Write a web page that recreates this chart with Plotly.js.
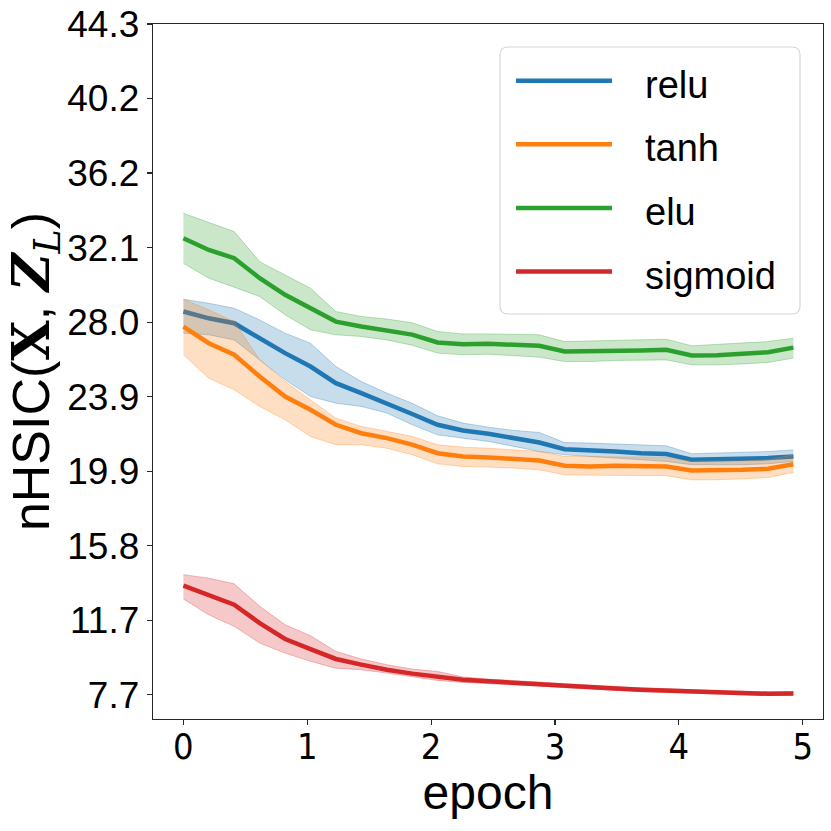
<!DOCTYPE html>
<html>
<head>
<meta charset="utf-8">
<script src="https://cdn.plot.ly/plotly-3.0.1.min.js"></script>
<style>
  html, body { margin: 0; padding: 0; background: #fff; }
  #chart { width: 831px; height: 831px; }
</style>
</head>
<body>
<div id="chart"></div>
<script>
// ---------------- data ----------------
const epochs = [0, 0.205, 0.41, 0.616, 0.821, 1.026, 1.231, 1.436, 1.642, 1.847,
                2.052, 2.257, 2.462, 2.668, 2.873, 3.078, 3.283, 3.488, 3.694, 3.899,
                4.104, 4.309, 4.514, 4.72, 4.925];

const seriesNames = ["relu", "tanh", "elu", "sigmoid"];
const seriesColors = ["#1f77b4", "#ff7f0e", "#2ca02c", "#d62728"];

const reluMean  = [28.61, 28.24, 27.97, 27.15, 26.34, 25.61, 24.70, 24.16, 23.61, 23.02,
                   22.43, 22.12, 21.94, 21.70, 21.46, 21.10, 21.06, 20.97, 20.88, 20.83,
                   20.52, 20.55, 20.57, 20.61, 20.70];
const reluUpper = [29.28, 29.06, 28.79, 28.15, 27.43, 26.88, 25.61, 24.79, 24.16, 23.60,
                   22.92, 22.52, 22.30, 22.12, 22.01, 21.46, 21.43, 21.37, 21.34, 21.28,
                   20.85, 20.88, 20.92, 20.97, 21.06];
const reluLower = [27.43, 27.34, 27.06, 25.97, 24.88, 23.97, 23.61, 23.43, 23.07, 22.43,
                   21.88, 21.70, 21.52, 21.25, 20.97, 20.79, 20.70, 20.61, 20.48, 20.43,
                   20.25, 20.25, 20.25, 20.30, 20.43];

const tanhMean  = [27.79, 26.88, 26.25, 25.06, 23.97, 23.25, 22.43, 21.97, 21.70, 21.35,
                   20.88, 20.70, 20.65, 20.55, 20.48, 20.19, 20.15, 20.19, 20.19, 20.15,
                   19.93, 19.93, 19.97, 20.03, 20.28];
const tanhUpper = [29.28, 28.70, 28.06, 25.97, 24.79, 23.79, 22.79, 22.34, 22.06, 21.80,
                   21.34, 21.21, 21.15, 21.06, 20.97, 20.70, 20.70, 20.70, 20.70, 20.66,
                   20.43, 20.43, 20.46, 20.52, 20.79];
const tanhLower = [26.25, 24.97, 24.34, 23.43, 22.70, 21.79, 21.34, 21.34, 21.15, 20.80,
                   20.30, 20.15, 20.12, 20.07, 19.97, 19.70, 19.68, 19.68, 19.68, 19.65,
                   19.43, 19.43, 19.48, 19.55, 19.83];

const eluMean   = [32.61, 31.97, 31.52, 30.43, 29.52, 28.79, 28.06, 27.79, 27.57, 27.35,
                   26.92, 26.83, 26.85, 26.79, 26.74, 26.43, 26.43, 26.48, 26.48, 26.52,
                   26.21, 26.23, 26.30, 26.39, 26.64];
const eluUpper  = [33.97, 33.46, 32.97, 31.33, 30.61, 29.88, 28.61, 28.34, 28.20, 28.00,
                   27.52, 27.39, 27.39, 27.37, 27.34, 26.97, 27.01, 27.06, 27.10, 27.10,
                   26.74, 26.81, 26.88, 26.97, 27.15];
const eluLower  = [31.24, 30.43, 29.94, 29.43, 28.43, 27.61, 27.34, 27.25, 27.06, 26.77,
                   26.34, 26.25, 26.28, 26.21, 26.12, 25.88, 25.88, 25.94, 25.94, 25.97,
                   25.70, 25.70, 25.75, 25.83, 26.07];

const sigmoidMean  = [13.65, 13.10, 12.61, 11.61, 10.74, 10.19, 9.65, 9.34, 9.06, 8.85,
                      8.67, 8.52, 8.43, 8.34, 8.28, 8.19, 8.10, 8.04, 7.97, 7.93,
                      7.86, 7.81, 7.79, 7.75, 7.77];
const sigmoidUpper = [14.25, 14.06, 13.75, 12.52, 11.52, 10.92, 10.06, 9.65, 9.34, 9.10,
                      8.97, 8.67, 8.55, 8.45, 8.39, 8.30, 8.21, 8.14, 8.07, 8.03,
                      7.96, 7.91, 7.89, 7.85, 7.87];
const sigmoidLower = [12.92, 12.06, 11.43, 10.52, 9.97, 9.52, 9.15, 9.06, 8.88, 8.70,
                      8.48, 8.37, 8.31, 8.23, 8.17, 8.08, 7.99, 7.94, 7.87, 7.83,
                      7.76, 7.71, 7.69, 7.65, 7.67];

const yTickVals   = [7.7, 11.767, 15.833, 19.9, 23.967, 28.033, 32.1, 36.167, 40.233, 44.3];
const yTickLabels = ["7.7", "11.7", "15.8", "19.9", "23.9", "28.0", "32.1", "36.2", "40.2", "44.3"];
const xTickVals   = [0, 1, 2, 3, 4, 5];
const xTickLabels = ["0", "1", "2", "3", "4", "5"];

// ---------------- build traces ----------------
const means  = [reluMean, tanhMean, eluMean, sigmoidMean];
const uppers = [reluUpper, tanhUpper, eluUpper, sigmoidUpper];
const lowers = [reluLower, tanhLower, eluLower, sigmoidLower];

function rgba(hex, a) {
  const r = parseInt(hex.slice(1, 3), 16), g = parseInt(hex.slice(3, 5), 16), b = parseInt(hex.slice(5, 7), 16);
  return `rgba(${r},${g},${b},${a})`;
}

const traces = [];
seriesNames.forEach((name, i) => {
  const c = seriesColors[i];
  traces.push({
    x: epochs, y: lowers[i], type: "scatter", mode: "lines",
    line: { color: rgba(c, 0.3), width: 1 }, hoverinfo: "skip", showlegend: false
  });
  traces.push({
    x: epochs, y: uppers[i], type: "scatter", mode: "lines", fill: "tonexty",
    fillcolor: rgba(c, 0.25), line: { color: rgba(c, 0.3), width: 1 },
    hoverinfo: "skip", showlegend: false
  });
  traces.push({
    x: epochs, y: means[i], type: "scatter", mode: "lines", name: name,
    line: { color: c, width: 4.5 }, showlegend: false
  });
});

// ---------------- layout ----------------
const W = 831, H = 831;
const M = { l: 153, r: 8, t: 24, b: 112 };
const plotW = W - M.l - M.r, plotH = H - M.t - M.b;
const px2x = p => (p - M.l) / plotW;
const py2y = p => (H - M.b - p) / plotH;

// manual legend (matplotlib-style)
const legBox = { x0: 500, x1: 800, y0: 47, y1: 314, r: 8 };
const rx = legBox.r / plotW, ry = legBox.r / plotH;
const bx0 = px2x(legBox.x0), bx1 = px2x(legBox.x1), by0 = py2y(legBox.y1), by1 = py2y(legBox.y0);
const legendPath =
  `M ${bx0 + rx},${by1} L ${bx1 - rx},${by1} Q ${bx1},${by1} ${bx1},${by1 - ry} ` +
  `L ${bx1},${by0 + ry} Q ${bx1},${by0} ${bx1 - rx},${by0} L ${bx0 + rx},${by0} ` +
  `Q ${bx0},${by0} ${bx0},${by0 + ry} L ${bx0},${by1 - ry} Q ${bx0},${by1} ${bx0 + rx},${by1} Z`;

const shapes = [{
  type: "path", xref: "paper", yref: "paper", path: legendPath,
  fillcolor: "rgba(255,255,255,0.8)", line: { color: "#d6d6d6", width: 1.2 }, layer: "above"
}];
const annotations = [];
const rowY = [80.7, 144.3, 207.9, 271.5];
seriesNames.forEach((name, i) => {
  shapes.push({
    type: "line", xref: "paper", yref: "paper",
    x0: px2x(516), x1: px2x(612), y0: py2y(rowY[i]), y1: py2y(rowY[i]),
    line: { color: seriesColors[i], width: 4.5 }, layer: "above"
  });
  annotations.push({
    xref: "paper", yref: "paper", x: px2x(643), y: py2y(rowY[i] + 4),
    xanchor: "left", yanchor: "middle", showarrow: false, text: name,
    font: { family: "Liberation Sans, Arial, sans-serif", size: 38, color: "#000" }
  });
});

const layout = {
  width: W, height: H,
  margin: M,
  paper_bgcolor: "#fff", plot_bgcolor: "#fff",
  showlegend: false,
  xaxis: {
    range: [-0.2456, 5.164], tickmode: "array", tickvals: xTickVals, ticktext: xTickLabels,
    showgrid: false, zeroline: false, showline: true, mirror: true,
    linecolor: "#262626", linewidth: 1.3,
    ticks: "outside", ticklen: 5, tickwidth: 1.2, tickcolor: "#262626",
    ticklabelstandoff: -10,
    tickfont: { family: "Liberation Sans Narrow, DejaVu Sans Condensed, Liberation Sans, sans-serif", size: 36, color: "#000" },
    title: { text: "epoch", standoff: 0,
             font: { family: "Liberation Sans, Arial, sans-serif", size: 48, color: "#000" } },
    automargin: false
  },
  yaxis: {
    range: [6.374, 44.3], tickmode: "array", tickvals: yTickVals, ticktext: yTickLabels,
    showgrid: false, zeroline: false, showline: true, mirror: true,
    linecolor: "#262626", linewidth: 1.3,
    ticks: "outside", ticklen: 5, tickwidth: 1.2, tickcolor: "#262626",
    tickfont: { family: "Liberation Sans, Arial, sans-serif", size: 37, color: "#000" },
    title: {
      text: "nHSIC(<span style=\"font-family:'DejaVu Serif'\"><b>X</b></span>, " +
            "<span style=\"font-family:'DejaVu Serif'\"><b><i>Z</i></b><sub><i>L</i></sub></span>)",
      standoff: 8,
      font: { family: "Liberation Sans, Arial, sans-serif", size: 52, color: "#000" }
    },
    automargin: false
  },
  shapes: shapes,
  annotations: annotations
};

Plotly.newPlot("chart", traces, layout, { displayModeBar: false, staticPlot: true });
</script>
</body>
</html>
